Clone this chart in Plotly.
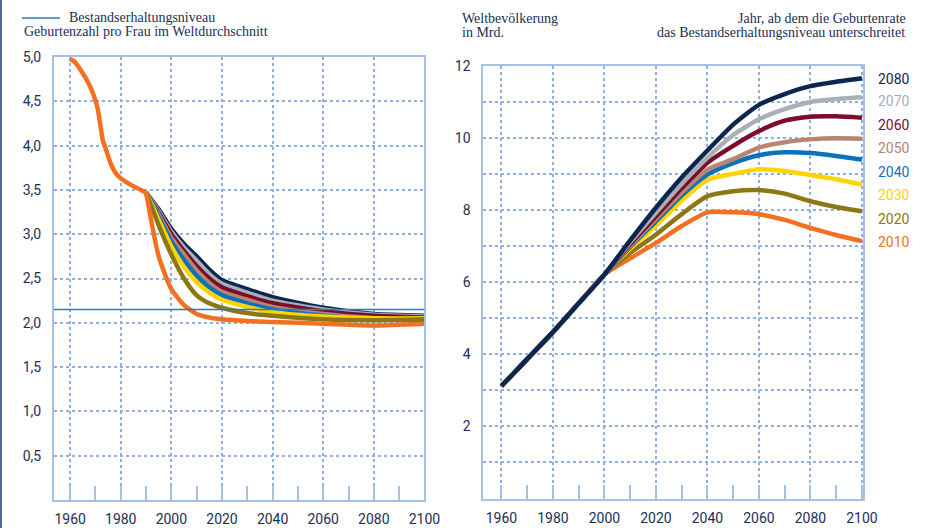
import plotly.graph_objects as go

# ---------------- data ----------------
fert_hist_years = [1960, 1962, 1964, 1966, 1968, 1970, 1971, 1972, 1973, 1974, 1976, 1978, 1980, 1982, 1985, 1988, 1990]
fert_hist = [4.98, 4.94, 4.86, 4.77, 4.66, 4.51, 4.40, 4.22, 4.05, 3.97, 3.80, 3.69, 3.63, 3.59, 3.54, 3.50, 3.47]

fert_years = [1990, 1995, 2000, 2005, 2010, 2015, 2020, 2030, 2040, 2060, 2080, 2100]
fert_2080 = [3.47, 3.28, 3.06, 2.89, 2.75, 2.60, 2.48, 2.38, 2.29, 2.17, 2.10, 2.08]
fert_2070 = [3.47, 3.26, 3.03, 2.85, 2.70, 2.55, 2.44, 2.34, 2.25, 2.15, 2.09, 2.07]
fert_2060 = [3.47, 3.24, 3.00, 2.81, 2.64, 2.50, 2.40, 2.30, 2.22, 2.13, 2.08, 2.06]
fert_2050 = [3.47, 3.22, 2.96, 2.77, 2.59, 2.45, 2.35, 2.26, 2.18, 2.10, 2.05, 2.03]
fert_2040 = [3.47, 3.19, 2.92, 2.71, 2.53, 2.40, 2.31, 2.22, 2.15, 2.08, 2.04, 2.03]
fert_2030 = [3.47, 3.16, 2.86, 2.63, 2.46, 2.34, 2.26, 2.18, 2.12, 2.07, 2.05, 2.05]
fert_2020 = [3.47, 3.10, 2.77, 2.50, 2.31, 2.22, 2.17, 2.11, 2.08, 2.04, 2.03, 2.04]
fert_2010 = [3.47, 2.75, 2.38, 2.20, 2.10, 2.06, 2.04, 2.02, 2.01, 1.99, 1.97, 1.99]
replacement_level = 2.15

pop_hist_years = [1960, 1970, 1980, 1990]
pop_hist = [3.1, 3.85, 4.6, 5.4]
pop_years = [2000, 2010, 2020, 2030, 2040, 2050, 2060, 2070, 2080, 2090, 2100]
pop_2080 = [6.2, 7.15, 8.06, 8.90, 9.65, 10.37, 10.92, 11.22, 11.44, 11.56, 11.66]
pop_2070 = [6.2, 7.10, 7.92, 8.72, 9.45, 10.08, 10.52, 10.80, 11.00, 11.08, 11.13]
pop_2060 = [6.2, 7.05, 7.82, 8.60, 9.31, 9.78, 10.19, 10.48, 10.59, 10.60, 10.56]
pop_2050 = [6.2, 7.00, 7.75, 8.48, 9.12, 9.41, 9.73, 9.88, 9.96, 9.99, 9.98]
pop_2040 = [6.2, 6.97, 7.68, 8.40, 8.98, 9.30, 9.52, 9.60, 9.58, 9.50, 9.40]
pop_2030 = [6.2, 6.92, 7.56, 8.25, 8.84, 9.00, 9.13, 9.08, 8.97, 8.85, 8.70]
pop_2020 = [6.2, 6.80, 7.31, 7.88, 8.38, 8.52, 8.55, 8.45, 8.24, 8.08, 7.96]
pop_2010 = [6.2, 6.65, 7.08, 7.55, 7.93, 7.93, 7.88, 7.72, 7.50, 7.30, 7.13]

scenario_labels = ["2080", "2070", "2060", "2050", "2040", "2030", "2020", "2010"]
x_ticks = [1960, 1980, 2000, 2020, 2040, 2060, 2080, 2100]
x_minor = [1970, 1990, 2010, 2030, 2050, 2070, 2090]
left_y_ticks = [0.5, 1.0, 1.5, 2.0, 2.5, 3.0, 3.5, 4.0, 4.5, 5.0]
left_y_text = ["0,5", "1,0", "1,5", "2,0", "2,5", "3,0", "3,5", "4,0", "4,5", "5,0"]
right_y_ticks = [1, 2, 3, 4, 5, 6, 7, 8, 9, 10, 11, 12]
right_y_text = ["", "2", "", "4", "", "6", "", "8", "", "10", "", "12"]

colors = {
    "2080": "#0b2750", "2070": "#a9afb6", "2060": "#7b0c2c", "2050": "#b88571",
    "2040": "#0a72bb", "2030": "#ffd400", "2020": "#8c7714", "2010": "#f37021",
}
TXT = "#1b2f54"
AX = "#a6c1e6"
GRID = "#8fb0e0"
W, H = 929, 528
T, B = 57, 500
SX = 0.984  # horizontal compression observed in the rendered page


def px(x):
    return x / SX / W


def py(y):
    return (B - y) / (B - T)


fert_series = {"2080": fert_2080, "2070": fert_2070, "2060": fert_2060, "2050": fert_2050,
               "2040": fert_2040, "2030": fert_2030, "2020": fert_2020, "2010": fert_2010}
pop_series = {"2080": pop_2080, "2070": pop_2070, "2060": pop_2060, "2050": pop_2050,
              "2040": pop_2040, "2030": pop_2030, "2020": pop_2020, "2010": pop_2010}

fig = go.Figure()
for lab in scenario_labels:
    fig.add_trace(go.Scatter(x=fert_years, y=fert_series[lab], mode="lines",
                             line=dict(color=colors[lab], width=4.5, shape="spline", smoothing=0.6),
                             xaxis="x", yaxis="y", hoverinfo="skip"))
fig.add_trace(go.Scatter(x=fert_hist_years, y=fert_hist, mode="lines",
                         line=dict(color=colors["2010"], width=4.5, shape="spline", smoothing=0.6),
                         xaxis="x", yaxis="y", hoverinfo="skip"))
for lab in reversed(scenario_labels):
    fig.add_trace(go.Scatter(x=pop_hist_years + pop_years, y=pop_hist + pop_series[lab], mode="lines",
                             line=dict(color=colors[lab], width=4.5, shape="spline", smoothing=0.6),
                             xaxis="x2", yaxis="y2", hoverinfo="skip"))

xcommon = dict(
    tickmode="array", tickvals=x_ticks, showline=True, linecolor=AX, linewidth=2, mirror=True,
    showgrid=True, gridcolor=GRID, griddash="dot", gridwidth=1.5,
    ticks="inside", ticklen=14, tickcolor=AX, tickwidth=1.5,
    minor=dict(tickmode="array", tickvals=x_minor, ticks="inside", ticklen=14, tickcolor=AX,
               tickwidth=1.5, showgrid=False),
    tickfont=dict(family="Roboto", size=14, color=TXT), ticklabelstandoff=5, zeroline=False,
)
ycommon = dict(
    tickmode="array", showline=True, linecolor=AX, linewidth=2, mirror=True,
    showgrid=True, gridcolor=GRID, griddash="dot", gridwidth=1.5, ticks="",
    tickfont=dict(family="Roboto", size=14, color=TXT), ticklabelstandoff=8, zeroline=False,
)

fig.update_layout(
    width=W, height=H, showlegend=False,
    margin=dict(l=0, r=0, t=T, b=H - B),
    paper_bgcolor="white", plot_bgcolor="white",
    xaxis=dict(domain=[px(54), px(425)], range=[1953.6, 2100], **xcommon),
    yaxis=dict(domain=[0, 1], range=[0, 5.0], tickvals=left_y_ticks, ticktext=left_y_text, **ycommon),
    xaxis2=dict(domain=[px(484), px(864)], range=[1953.0, 2100.4], anchor="y2", **xcommon),
    yaxis2=dict(domain=[py(499), py(66)], range=[-0.04, 12], anchor="x2",
                tickvals=right_y_ticks, ticktext=right_y_text, **ycommon),
)

shapes = [
    dict(type="line", xref="x domain", yref="y", x0=0, x1=1, y0=replacement_level, y1=replacement_level,
         line=dict(color="#1e7fc4", width=1.5), layer="above"),
    dict(type="line", xref="paper", yref="paper", x0=px(22), x1=px(60), y0=py(18), y1=py(18),
         line=dict(color="#1e7fc4", width=1.5)),
    dict(type="line", xref="paper", yref="paper", x0=px(1), x1=px(1), y0=py(528), y1=py(0),
         line=dict(color="#55698a", width=2)),
]
fig.update_layout(shapes=shapes)

HFONT = dict(family="Liberation Serif", size=14, color=TXT)
ann = [
    dict(text="Bestandserhaltungsniveau", x=px(67), y=py(18), xanchor="left"),
    dict(text="Geburtenzahl pro Frau im Weltdurchschnitt", x=px(22), y=py(32), xanchor="left"),
    dict(text="Weltbevölkerung", x=px(461), y=py(19), xanchor="left"),
    dict(text="in Mrd.", x=px(461), y=py(33), xanchor="left"),
    dict(text="Jahr, ab dem die Geburtenrate", x=px(909), y=py(19), xanchor="right"),
    dict(text="das Bestandserhaltungsniveau unterschreitet", x=px(908), y=py(33), xanchor="right"),
]
for a in ann:
    fig.add_annotation(xref="paper", yref="paper", yanchor="middle", showarrow=False,
                       font=HFONT, text=a["text"], x=a["x"], y=a["y"], xanchor=a["xanchor"])

label_y = [79, 101, 125, 148, 172, 195, 219, 242]
for lab, yy in zip(scenario_labels, label_y):
    fig.add_annotation(xref="paper", yref="paper", x=px(877), y=py(yy), xanchor="left", yanchor="middle",
                       showarrow=False, text=lab, font=dict(family="Roboto", size=14, color=colors[lab]))

fig.write_html(
    "out.html", config={"displayModeBar": False},
    post_script=("document.documentElement.style.overflow='hidden';"
                 "document.body.style.overflow='hidden';document.body.style.margin='0px';"),
)
